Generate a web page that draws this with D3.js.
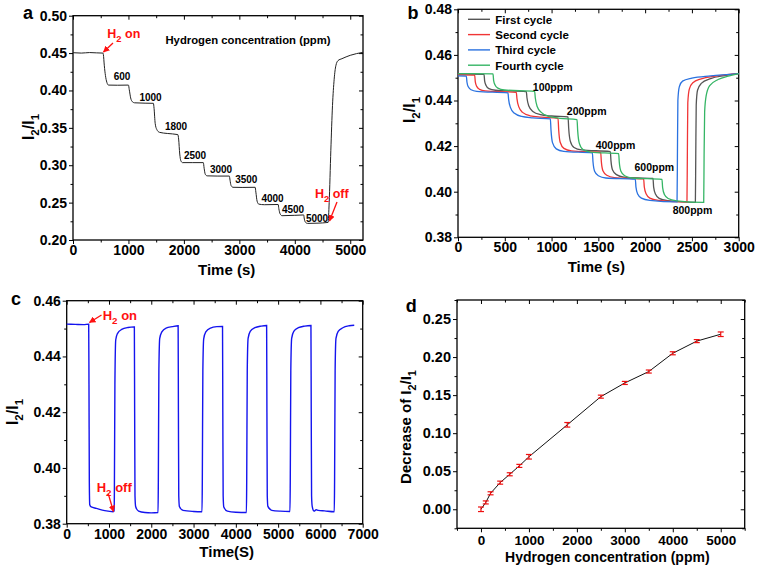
<!DOCTYPE html>
<html>
<head>
<meta charset="utf-8">
<script src="https://cdn.jsdelivr.net/npm/d3@7"></script>
<style>
  body { margin: 0; background: #fff; }
  text { font-family: "Liberation Sans", Arial, sans-serif; font-weight: bold; }
  .tick line { stroke: #000; stroke-width: 1; }
</style>
</head>
<body>
<script>
// ---- data ----
// panel a : stepwise response, time (s) vs I2/I1
var curveA = [[0,0.4505],[150,0.4500],[300,0.4507],[420,0.4503],[540,0.4500],[548,0.4480],[565,0.4330],[585,0.4200],[610,0.4110],[640,0.4072],[800,0.4070],[1000,0.4072],
  [1015,0.4010],[1040,0.3900],[1070,0.3850],[1110,0.3835],[1300,0.3830],[1450,0.3828],[1462,0.3760],[1482,0.3560],[1510,0.3480],[1560,0.3440],[1700,0.3425],[1890,0.3410],
  [1905,0.3350],[1925,0.3150],[1945,0.3060],[1975,0.3035],[2150,0.3035],[2350,0.3035],[2365,0.2960],[2385,0.2880],[2420,0.2858],[2600,0.2855],[2820,0.2855],
  [2832,0.2800],[2850,0.2730],[2885,0.2705],[3050,0.2703],[3285,0.2705],[3298,0.2640],[3320,0.2520],[3350,0.2480],[3450,0.2472],[3700,0.2475],
  [3712,0.2420],[3735,0.2350],[3770,0.2325],[4000,0.2330],[4160,0.2335],[4172,0.2280],[4195,0.2235],[4230,0.2222],[4400,0.2225],[4600,0.2235],
  [4620,0.2500],[4650,0.3200],[4680,0.3800],[4710,0.4150],[4740,0.4330],[4780,0.4400],[4850,0.4425],[5000,0.4470],[5230,0.4510]];
var stepLabelsA = ["600","1000","1800","2500","3000","3500","4000","4500","5000"];

// panel b : four cycles
var cycleNames = ["First cycle","Second cycle","Third cycle","Fourth cycle"];
var cycleFirst = [[0,0.4516],[278,0.4515],[285,0.4485],[300,0.4466],[330,0.4452],[400,0.4445],[730,0.4439],
  [737,0.4412],[757,0.4376],[800,0.4352],[880,0.4338],[1000,0.4332],[1176,0.4328],
  [1183,0.4278],[1200,0.4222],[1240,0.4194],[1320,0.4183],[1628,0.4176],
  [1635,0.4135],[1652,0.4095],[1693,0.4075],[1773,0.4064],[2084,0.4058],
  [2091,0.4020],[2110,0.3990],[2150,0.3971],[2240,0.3961],[2537,0.3953],
  [2541,0.4150],[2546,0.4380],[2560,0.4445],[2600,0.4475],[2700,0.4496],[2850,0.4509],[3000,0.4518]];
var cycleSecond = [[0,0.4512],[178,0.4511],[185,0.4482],[200,0.4462],[230,0.4449],[290,0.4442],[623,0.4436],
  [630,0.4408],[650,0.4372],[690,0.4348],[770,0.4333],[890,0.4327],[1069,0.4322],
  [1076,0.4272],[1092,0.4217],[1132,0.4190],[1212,0.4179],[1525,0.4172],
  [1532,0.4132],[1549,0.4092],[1590,0.4072],[1670,0.4062],[1984,0.4056],
  [1991,0.4021],[2010,0.3991],[2050,0.3972],[2140,0.3962],[2447,0.3955],
  [2451,0.4150],[2456,0.4390],[2472,0.4450],[2510,0.4478],[2600,0.4495],[2750,0.4507],[3000,0.4518]];
var cycleThird = [[0,0.4508],[89,0.4507],[96,0.4480],[110,0.4460],[140,0.4447],[200,0.4440],[534,0.4433],
  [541,0.4405],[560,0.4370],[600,0.4345],[680,0.4330],[800,0.4324],[987,0.4319],
  [994,0.4270],[1010,0.4215],[1050,0.4188],[1130,0.4177],[1436,0.4170],
  [1443,0.4130],[1460,0.4090],[1500,0.4070],[1580,0.4060],[1895,0.4055],
  [1902,0.4020],[1920,0.3990],[1960,0.3972],[2050,0.3962],[2341,0.3955],
  [2345,0.4150],[2350,0.4400],[2365,0.4460],[2400,0.4485],[2500,0.4498],[2700,0.4508],[3000,0.4518]];
var cycleFourth = [[0,0.4518],[374,0.4517],[381,0.4487],[396,0.4468],[426,0.4454],[496,0.4446],[819,0.4440],
  [826,0.4412],[846,0.4374],[890,0.4348],[970,0.4330],[1090,0.4322],[1272,0.4316],
  [1279,0.4268],[1296,0.4213],[1336,0.4185],[1416,0.4174],[1717,0.4167],
  [1724,0.4128],[1741,0.4090],[1782,0.4070],[1862,0.4060],[2180,0.4054],
  [2187,0.4018],[2206,0.3988],[2246,0.3970],[2336,0.3960],[2626,0.3953],
  [2630,0.4150],[2636,0.4350],[2652,0.4420],[2690,0.4465],[2780,0.4492],[2900,0.4508],[3000,0.4518]];
var cycleColors = ["#555555","#f03535","#2a72e0","#35b565"];
var ppmLabelsB = ["100ppm","200ppm","400ppm","600ppm","800ppm"];

// panel c : repeated on/off cycles
var curveC = [[0,0.4516],[200,0.4515],[400,0.4514],[520,0.4516],[527,0.4300],[535,0.3950],[545,0.3868],[580,0.3860],[700,0.3855],[900,0.3847],[1100,0.3843],[1120,0.3845],
  [1127,0.3900],[1140,0.4300],[1160,0.4460],[1200,0.4482],[1300,0.4497],[1450,0.4504],[1590,0.4506],[1600,0.4506],
  [1607,0.4200],[1615,0.3900],[1630,0.3862],[1700,0.3845],[1850,0.3840],[2000,0.3839],[2160,0.3840],
  [2167,0.3950],[2180,0.4350],[2200,0.4465],[2250,0.4488],[2350,0.4502],[2500,0.4507],[2635,0.4510],
  [2642,0.4200],[2650,0.3900],[2665,0.3862],[2750,0.3848],[3000,0.3844],[3200,0.3843],
  [3207,0.3950],[3220,0.4350],[3240,0.4463],[3290,0.4488],[3400,0.4502],[3550,0.4507],[3685,0.4508],
  [3692,0.4200],[3700,0.3900],[3715,0.3860],[3800,0.3845],[4000,0.3841],[4250,0.3840],
  [4257,0.3950],[4270,0.4350],[4290,0.4465],[4340,0.4490],[4450,0.4503],[4600,0.4509],[4728,0.4511],
  [4735,0.4200],[4743,0.3900],[4758,0.3862],[4850,0.3848],[5050,0.3845],[5280,0.3844],
  [5287,0.3950],[5300,0.4350],[5320,0.4465],[5370,0.4490],[5480,0.4503],[5630,0.4509],[5776,0.4511],
  [5783,0.4200],[5791,0.3900],[5806,0.3862],[5850,0.3845],[5900,0.3850],[5950,0.3848],[6100,0.3846],[6328,0.3843],
  [6335,0.3950],[6348,0.4350],[6368,0.4465],[6420,0.4490],[6530,0.4503],[6680,0.4510],[6800,0.4512]];

// panel d : calibration, concentration (ppm) vs decrease
var concD = [0,100,200,400,600,800,1000,1800,2500,3000,3500,4000,4500,5000];
var decreaseD = [0.000,0.009,0.021,0.035,0.046,0.057,0.069,0.111,0.148,0.166,0.181,0.205,0.221,0.230];
var errD = [0.003,0.002,0.002,0.002,0.002,0.002,0.003,0.003,0.002,0.002,0.002,0.002,0.002,0.003];

var svg = d3.select("body").append("svg").attr("width", 758).attr("height", 567);

// builds frame + axes (ticks out on left/bottom, in on top/right)
function makePanel(p) {
  var x = d3.scaleLinear().domain(p.xDomain).range([p.left, p.right]);
  var y = d3.scaleLinear().domain(p.yDomain).range([p.bottom, p.top]);
  var g = svg.append("g");

  g.append("g").attr("transform", "translate(0," + p.bottom + ")")
    .call(d3.axisBottom(x).tickValues(p.xTicks).tickSize(4).tickPadding(p.xPad).tickFormat(d3.format("d")));
  g.append("g").attr("transform", "translate(0," + p.bottom + ")")
    .call(d3.axisBottom(x).tickValues(p.xMinor).tickSize(2.5).tickFormat(""));
  g.append("g").attr("transform", "translate(0," + p.top + ")")
    .call(d3.axisTop(x).tickValues(p.xTicks).tickSize(-4).tickFormat(""));
  g.append("g").attr("transform", "translate(0," + p.top + ")")
    .call(d3.axisTop(x).tickValues(p.xMinor).tickSize(-2.5).tickFormat(""));

  g.append("g").attr("transform", "translate(" + p.left + ",0)")
    .call(d3.axisLeft(y).tickValues(p.yTicks).tickSize(4).tickPadding(2).tickFormat(d3.format(".2f")));
  g.append("g").attr("transform", "translate(" + p.left + ",0)")
    .call(d3.axisLeft(y).tickValues(p.yMinor).tickSize(2.5).tickFormat(""));
  g.append("g").attr("transform", "translate(" + p.right + ",0)")
    .call(d3.axisRight(y).tickValues(p.yTicks).tickSize(-4).tickFormat(""));
  g.append("g").attr("transform", "translate(" + p.right + ",0)")
    .call(d3.axisRight(y).tickValues(p.yMinor).tickSize(-2.5).tickFormat(""));

  g.selectAll(".domain").remove();
  g.selectAll(".tick text")
    .style("font-size", p.tickFont + "px")
    .style("font-family", "'Liberation Sans', Arial, sans-serif")
    .style("font-weight", "bold")
    .attr("fill", "#000");

  g.append("rect")
    .attr("x", p.left).attr("y", p.top)
    .attr("width", p.right - p.left).attr("height", p.bottom - p.top)
    .attr("fill", "none").attr("stroke", "#000").attr("stroke-width", 1.3);

  // panel letter
  g.append("text").attr("x", p.letterX).attr("y", p.letterY)
    .attr("text-anchor", "middle").style("font-size", "18px").text(p.letter);

  return { x: x, y: y, g: g };
}

// I2/I1 style label with subscripts (rotated)
function ratioTitle(g, cx, cy, size, prefix) {
  var t = g.append("text")
    .attr("transform", "translate(" + cx + "," + cy + ") rotate(-90)")
    .attr("text-anchor", "middle")
    .style("font-size", size + "px");
  t.append("tspan").text(prefix + "I");
  t.append("tspan").attr("dy", size * 0.3).style("font-size", (size * 0.72) + "px").text("2");
  t.append("tspan").attr("dy", -size * 0.3).text("/I");
  t.append("tspan").attr("dy", size * 0.3).style("font-size", (size * 0.72) + "px").text("1");
}

// red "H2 on"/"H2 off" note with an arrow
function h2Note(g, tx, ty, size, word, from, to) {
  var t = g.append("text").attr("x", tx).attr("y", ty).attr("fill", "#ff1010").style("font-size", size + "px");
  t.append("tspan").text("H");
  t.append("tspan").attr("dy", size * 0.3).style("font-size", (size * 0.75) + "px").text("2");
  t.append("tspan").attr("dy", -size * 0.3).text(" " + word);
  g.append("line")
    .attr("x1", from[0]).attr("y1", from[1]).attr("x2", to[0]).attr("y2", to[1])
    .attr("stroke", "#ff1010").attr("stroke-width", 1.3)
    .attr("marker-end", "url(#redArrow)");
}

svg.append("defs").append("marker")
  .attr("id", "redArrow").attr("viewBox", "0 0 10 10")
  .attr("refX", 9).attr("refY", 5)
  .attr("markerWidth", 5).attr("markerHeight", 5)
  .attr("orient", "auto")
  .append("path").attr("d", "M0,0 L10,5 L0,10 z").attr("fill", "#ff1010");

var smooth = function(sx, sy) {
  return d3.line().x(function(d) { return sx(d[0]); }).y(function(d) { return sy(d[1]); }).curve(d3.curveMonotoneX);
};

// ---------------- panel a ----------------
var pa = makePanel({
  left: 73, right: 363, top: 15.7, bottom: 240,
  xDomain: [0, 5230], yDomain: [0.20, 0.50],
  xTicks: [0,1000,2000,3000,4000,5000], xMinor: [500,1500,2500,3500,4500],
  yTicks: [0.20,0.25,0.30,0.35,0.40,0.45,0.50], yMinor: [0.225,0.275,0.325,0.375,0.425,0.475],
  xPad: 1, tickFont: 14, letter: "a", letterX: 28, letterY: 18.5
});
pa.g.append("path").datum(curveA)
  .attr("d", smooth(pa.x, pa.y)).attr("fill", "none").attr("stroke", "#222").attr("stroke-width", 1);
pa.g.append("text").attr("x", 226.7).attr("y", 275).attr("text-anchor", "middle").style("font-size", "15px").text("Time (s)");
ratioTitle(pa.g, 34, 127, 16, "");
pa.g.append("text").attr("x", 248).attr("y", 44).attr("text-anchor", "middle").style("font-size", "11.3px")
  .text("Hydrogen concentration (ppm)");
var stepPosA = [[122,80],[150.5,101],[176,130],[195,158.7],[221,172.7],[246.3,182.7],[272.5,201.7],[293,212.7],[317,222]];
pa.g.selectAll(".step").data(stepLabelsA).enter().append("text")
  .attr("x", function(d, i) { return stepPosA[i][0]; })
  .attr("y", function(d, i) { return stepPosA[i][1]; })
  .attr("text-anchor", "middle").style("font-size", "10px").text(function(d) { return d; });
h2Note(pa.g, 107.3, 38.3, 12.5, "on", [113, 43], [103.5, 52]);
h2Note(pa.g, 315, 198.3, 12.5, "off", [337, 202], [329.5, 221]);

// ---------------- panel b ----------------
var pb = makePanel({
  left: 458, right: 738.7, top: 9.3, bottom: 237.3,
  xDomain: [0, 3000], yDomain: [0.38, 0.48],
  xTicks: [0,500,1000,1500,2000,2500,3000], xMinor: [250,750,1250,1750,2250,2750],
  yTicks: [0.38,0.40,0.42,0.44,0.46,0.48], yMinor: [0.39,0.41,0.43,0.45,0.47],
  xPad: 1, tickFont: 14, letter: "b", letterX: 413, letterY: 18.5
});
var cycles = [cycleFirst, cycleSecond, cycleThird, cycleFourth];
// draw order: first, second, third, fourth (fourth on top)
cycles.forEach(function(c, i) {
  pb.g.append("path").datum(c)
    .attr("d", smooth(pb.x, pb.y)).attr("fill", "none")
    .attr("stroke", cycleColors[i]).attr("stroke-width", 1.3);
});
var legend = pb.g.append("g");
cycleNames.forEach(function(name, i) {
  var ly = 19.3 + i * 15.3;
  legend.append("line").attr("x1", 468).attr("x2", 490).attr("y1", ly).attr("y2", ly)
    .attr("stroke", cycleColors[i]).attr("stroke-width", 1.4);
  legend.append("text").attr("x", 495.3).attr("y", ly + 4.3).style("font-size", "11.5px").text(name);
});
var ppmPosB = [[552.7,90.7],[586.7,115],[615.5,149],[654.3,170.7],[692.5,214]];
pb.g.selectAll(".ppm").data(ppmLabelsB).enter().append("text")
  .attr("x", function(d, i) { return ppmPosB[i][0]; })
  .attr("y", function(d, i) { return ppmPosB[i][1]; })
  .attr("text-anchor", "middle").style("font-size", "10.5px").text(function(d) { return d; });
pb.g.append("text").attr("x", 596.3).attr("y", 271.5).attr("text-anchor", "middle").style("font-size", "15px").text("Time (s)");
ratioTitle(pb.g, 415, 110, 16, "");

// ---------------- panel c ----------------
var pc = makePanel({
  left: 66.7, right: 362.7, top: 300.7, bottom: 523.7,
  xDomain: [0, 7000], yDomain: [0.38, 0.46],
  xTicks: [0,1000,2000,3000,4000,5000,6000,7000], xMinor: [500,1500,2500,3500,4500,5500,6500],
  yTicks: [0.38,0.40,0.42,0.44,0.46], yMinor: [0.39,0.41,0.43,0.45],
  xPad: 1, tickFont: 14, letter: "c", letterX: 16, letterY: 305
});
pc.g.append("path").datum(curveC)
  .attr("d", smooth(pc.x, pc.y)).attr("fill", "none").attr("stroke", "#1414ee").attr("stroke-width", 1.4);
pc.g.append("text").attr("x", 226.7).attr("y", 557).attr("text-anchor", "middle").style("font-size", "15px").text("Time(S)");
ratioTitle(pc.g, 18, 412, 16, "");
h2Note(pc.g, 102.7, 320, 13, "on", [101.5, 315], [89.5, 322.5]);
h2Note(pc.g, 96.7, 491.7, 13, "off", [108.3, 494], [113.5, 511.5]);

// ---------------- panel d ----------------
var pd = makePanel({
  left: 457, right: 744.7, top: 300, bottom: 528.3,
  xDomain: [-500, 5500], yDomain: [-0.025, 0.275],
  xTicks: [0,1000,2000,3000,4000,5000], xMinor: [-500,500,1500,2500,3500,4500,5500],
  yTicks: [0.00,0.05,0.10,0.15,0.20,0.25], yMinor: [-0.025,0.025,0.075,0.125,0.175,0.225,0.275],
  xPad: 3, tickFont: 14.5, letter: "d", letterX: 411.3, letterY: 312.3
});
// x tick labels of d are a bit smaller than its y labels
pd.g.selectAll(".tick text").filter(function() { return this.getAttribute("dy") === "0.71em"; })
  .style("font-size", "13.5px");
var pointsD = concD.map(function(c, i) { return [c, decreaseD[i], errD[i]]; });
pd.g.append("path").datum(pointsD)
  .attr("d", d3.line().x(function(d) { return pd.x(d[0]); }).y(function(d) { return pd.y(d[1]); }))
  .attr("fill", "none").attr("stroke", "#111").attr("stroke-width", 1);
var bars = pd.g.selectAll(".err").data(pointsD).enter().append("g").attr("class", "err");
bars.append("line")
  .attr("x1", function(d) { return pd.x(d[0]); }).attr("x2", function(d) { return pd.x(d[0]); })
  .attr("y1", function(d) { return pd.y(d[1] - d[2]); }).attr("y2", function(d) { return pd.y(d[1] + d[2]); })
  .attr("stroke", "#ee1111").attr("stroke-width", 1.2);
[-1, 1].forEach(function(s) {
  bars.append("line")
    .attr("x1", function(d) { return pd.x(d[0]) - 3; }).attr("x2", function(d) { return pd.x(d[0]) + 3; })
    .attr("y1", function(d) { return pd.y(d[1] + s * d[2]); }).attr("y2", function(d) { return pd.y(d[1] + s * d[2]); })
    .attr("stroke", "#ee1111").attr("stroke-width", 1.2);
});
pd.g.append("text").attr("x", 607.3).attr("y", 561.5).attr("text-anchor", "middle").style("font-size", "14px")
  .text("Hydrogen concentration (ppm)");
ratioTitle(pd.g, 411, 427, 15, "Decrease of ");
</script>
</body>
</html>
